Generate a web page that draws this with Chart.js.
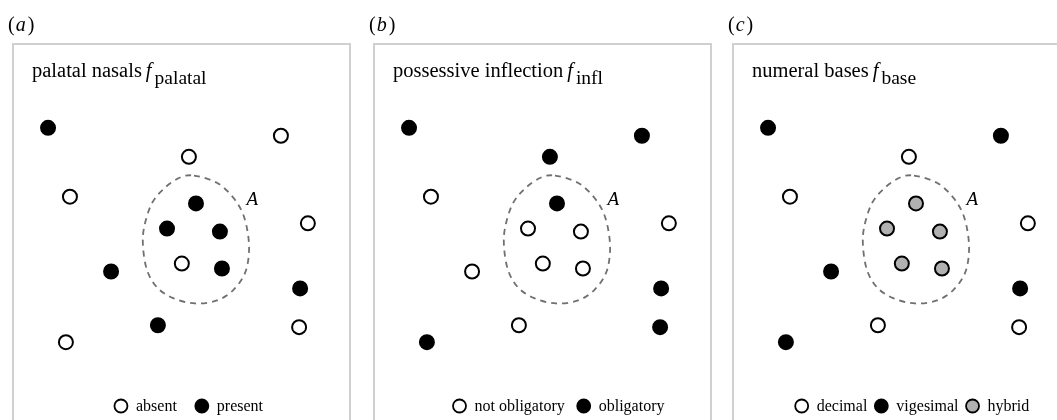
<!DOCTYPE html>
<html>
<head>
<meta charset="utf-8">
<script src="https://cdn.jsdelivr.net/npm/chart.js@4/dist/chart.umd.min.js"></script>
<style>
  html, body { margin: 0; padding: 0; background: #fff; overflow: hidden; }
  body { width: 1057px; height: 420px; position: relative; }
  canvas { position: absolute; top: 0; }
</style>
</head>
<body>
<canvas id="panelA" width="360" height="420" style="left:0px"></canvas>
<canvas id="panelB" width="360" height="420" style="left:361px"></canvas>
<canvas id="panelC" width="360" height="420" style="left:720px"></canvas>
<script>
// language positions on the schematic map, map units 0-100 (same in every panel)
const mapX = [10.4, 79.5, 52.2, 16.9, 54.3, 45.7, 61.4, 87.5, 50.1, 62.0, 29.1, 85.2, 43.0, 84.9, 15.7];
const mapY = [77.7, 75.6, 70.0, 59.4, 57.6, 50.9, 50.1, 52.3, 41.6, 40.3, 39.5, 35.0, 25.2, 24.7, 20.7];

// feature value of each language, same order as mapX / mapY
const palatalValues = ['present', 'absent', 'absent', 'absent', 'present', 'present', 'present', 'absent',
  'absent', 'present', 'present', 'present', 'present', 'absent', 'absent'];
const inflValues = ['obligatory', 'obligatory', 'obligatory', 'not obligatory', 'obligatory', 'not obligatory',
  'not obligatory', 'not obligatory', 'not obligatory', 'not obligatory', 'not obligatory', 'obligatory',
  'not obligatory', 'obligatory', 'obligatory'];
const baseValues = ['vigesimal', 'vigesimal', 'decimal', 'decimal', 'hybrid', 'hybrid', 'hybrid', 'decimal',
  'hybrid', 'hybrid', 'vigesimal', 'vigesimal', 'decimal', 'decimal', 'vigesimal'];

const palatalCats = ['absent', 'present'];
const inflCats = ['not obligatory', 'obligatory'];
const baseCats = ['decimal', 'vigesimal', 'hybrid'];

// outline of area A (dashed)
const areaX = [53.7, 60.5, 65.3, 68.2, 69.7, 70.0, 68.8, 65.3, 60.5, 54.0, 47.5, 42.7, 39.8, 38.6, 38.9, 41.2, 45.1, 49.6];
const areaY = [65.0, 63.1, 59.2, 54.9, 49.6, 44.3, 39.0, 34.5, 31.8, 31.0, 32.4, 35.3, 39.8, 45.9, 51.2, 57.6, 61.8, 64.5];
const areaName = 'A';
const areaNameAt = [71.0, 58.6];

const SERIF = '"Liberation Serif", "Times New Roman", serif';

const panels = [
  { id: 'panelA', letter: 'a', title: 'palatal nasals', sub: 'palatal', values: palatalValues,
    cats: palatalCats, fills: ['#ffffff', '#000000'], legendCenter: 188.5, legendGap: 25 },
  { id: 'panelB', letter: 'b', title: 'possessive inflection', sub: 'infl', values: inflValues,
    cats: inflCats, fills: ['#ffffff', '#000000'], legendCenter: 197.5, legendGap: 19 },
  { id: 'panelC', letter: 'c', title: 'numeral bases', sub: 'base', values: baseValues,
    cats: baseCats, fills: ['#ffffff', '#000000', '#b1b1b1'], legendCenter: 192, legendGap: 14 }
];

function decor(p) {
  return {
    id: 'decor',
    beforeDatasetsDraw(chart) {
      const ctx = chart.ctx;
      const area = chart.chartArea;
      const sx = chart.scales.x, sy = chart.scales.y;
      ctx.save();
      // panel frame
      ctx.strokeStyle = '#d0d0d0';
      ctx.lineWidth = 2;
      ctx.strokeRect(area.left, area.top, area.right - area.left, area.bottom - area.top + 20);

      // area A outline, closed smooth curve through the outline points
      const pts = areaX.map((v, i) => [sx.getPixelForValue(v), sy.getPixelForValue(areaY[i])]);
      const n = pts.length;
      ctx.beginPath();
      ctx.moveTo(pts[0][0], pts[0][1]);
      for (let i = 0; i < n; i++) {
        const p0 = pts[(i - 1 + n) % n], p1 = pts[i], p2 = pts[(i + 1) % n], p3 = pts[(i + 2) % n];
        ctx.bezierCurveTo(
          p1[0] + (p2[0] - p0[0]) / 6, p1[1] + (p2[1] - p0[1]) / 6,
          p2[0] - (p3[0] - p1[0]) / 6, p2[1] - (p3[1] - p1[1]) / 6,
          p2[0], p2[1]);
      }
      ctx.closePath();
      ctx.setLineDash([6, 5]);
      ctx.strokeStyle = '#707070';
      ctx.lineWidth = 1.8;
      ctx.stroke();
      ctx.restore();
    },
    afterDraw(chart) {
      const ctx = chart.ctx;
      const area = chart.chartArea;
      const sx = chart.scales.x, sy = chart.scales.y;
      ctx.save();
      ctx.fillStyle = '#000';
      ctx.textBaseline = 'alphabetic';
      ctx.textAlign = 'left';

      // (a) label
      let x = 8;
      ctx.font = '20px ' + SERIF;
      ctx.fillText('(', x, 31);
      x += ctx.measureText('(').width + 1;
      ctx.font = 'italic 20px ' + SERIF;
      ctx.fillText(p.letter, x, 31);
      x += ctx.measureText(p.letter).width + 2;
      ctx.font = '20px ' + SERIF;
      ctx.fillText(')', x, 31);

      // title with f subscript
      x = area.left + 19;
      ctx.font = '20.5px ' + SERIF;
      ctx.fillText(p.title, x, 77);
      x += ctx.measureText(p.title).width + 4;
      ctx.font = 'italic 20.5px ' + SERIF;
      ctx.fillText('f', x, 77);
      x += ctx.measureText('f').width + 3;
      ctx.font = '19.5px ' + SERIF;
      ctx.fillText(p.sub, x, 84);

      // area name
      ctx.font = 'italic 19px ' + SERIF;
      ctx.textAlign = 'center';
      ctx.textBaseline = 'middle';
      ctx.fillText(areaName, sx.getPixelForValue(areaNameAt[0]), sy.getPixelForValue(areaNameAt[1]));

      // legend
      ctx.font = '16px ' + SERIF;
      ctx.textAlign = 'left';
      ctx.textBaseline = 'alphabetic';
      const widths = p.cats.map(c => ctx.measureText(c).width);
      const total = 7 + widths.reduce((s, w) => s + 15 + w, 0) + p.legendGap * (p.cats.length - 1);
      let cx = p.legendCenter - total / 2 + 7;
      const cy = 406;
      p.cats.forEach((c, i) => {
        ctx.beginPath();
        ctx.arc(cx, cy, 6.5, 0, Math.PI * 2);
        ctx.fillStyle = p.fills[i];
        ctx.fill();
        ctx.lineWidth = 1.8;
        ctx.strokeStyle = '#000';
        ctx.stroke();
        ctx.fillStyle = '#000';
        ctx.fillText(c, cx + 15, 411);
        cx += 15 + widths[i] + p.legendGap;
      });
      ctx.restore();
    }
  };
}

panels.forEach(p => {
  const datasets = p.cats.map((cat, ci) => ({
    label: cat,
    data: mapX.map((x, i) => ({ x: x, y: mapY[i], v: p.values[i] }))
      .filter(d => d.v === cat),
    backgroundColor: p.fills[ci],
    borderColor: '#000000',
    borderWidth: 2,
    pointRadius: 7,
    pointHoverRadius: 7
  }));

  new Chart(document.getElementById(p.id), {
    type: 'scatter',
    data: { datasets: datasets },
    options: {
      responsive: false,
      animation: false,
      devicePixelRatio: 1,
      layout: { autoPadding: false, padding: { left: 13, top: 44, right: 10, bottom: 0 } },
      scales: {
        x: { type: 'linear', min: 0, max: 100, display: false },
        y: { type: 'linear', min: 0, max: 100, display: false }
      },
      plugins: {
        legend: { display: false },
        tooltip: { enabled: false }
      }
    },
    plugins: [decor(p)]
  });
});
</script>
</body>
</html>
